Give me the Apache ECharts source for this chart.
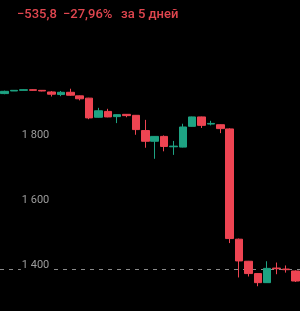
<!DOCTYPE html>
<html><head><meta charset="utf-8">
<script src="https://cdn.jsdelivr.net/npm/echarts@6/dist/echarts.min.js"></script>
<style>html,body{margin:0;padding:0;background:#000;overflow:hidden;width:300px;height:311px}#c{width:300px;height:331px}</style>
</head><body><div id="c"></div>
<script>
// Candles: [open, close, low, high]
const categories = Array.from({length: 32}, (_, i) => 'D' + (i + 1));
const candles = [
  [1929, 1936, 1927, 1938],
  [1937, 1939, 1937, 1940],
  [1939, 1941, 1939, 1942],
  [1941, 1939, 1938, 1942],
  [1939, 1937, 1936, 1940],
  [1934, 1927, 1920, 1937],
  [1926, 1933, 1921, 1937],
  [1933, 1924, 1922, 1944],
  [1922, 1913, 1908, 1923],
  [1915, 1854, 1850, 1916],
  [1856, 1876, 1855, 1885],
  [1874, 1857, 1856, 1882],
  [1858, 1864, 1838, 1865],
  [1865, 1861, 1856, 1866],
  [1862, 1818, 1802, 1863],
  [1815, 1782, 1762, 1848],
  [1782, 1797, 1728, 1798],
  [1797, 1766, 1751, 1800],
  [1765, 1767, 1740, 1783],
  [1764, 1826, 1763, 1836],
  [1828, 1857, 1827, 1858],
  [1857, 1831, 1823, 1858],
  [1835, 1837, 1831, 1845],
  [1833, 1821, 1807, 1834],
  [1820, 1482, 1468, 1822],
  [1480, 1413, 1362, 1482],
  [1412, 1374, 1365, 1413],
  [1374, 1346, 1335, 1375],
  [1346, 1390, 1345, 1412],
  [1391, 1389, 1372, 1408],
  [1388, 1386, 1377, 1399],
  [1382, 1351, 1348, 1384]
];
const shownTicks = [1400, 1600, 1800];
const refLine = 1387;
const header = ['−535,8', '−27,96%', 'за 5 дней'];

const chart = echarts.init(document.getElementById('c'), null, {renderer: 'canvas'});
const RED = '#EE4452', GREEN = '#1EA383', HDR = '#E0464F';
chart.setOption({
  backgroundColor: '#000',
  animation: false,
  graphic: [
    {type: 'text', left: 17, top: 8, style: {text: header[0], fill: HDR, font: '500 13px Roboto'}},
    {type: 'text', left: 63, top: 8, style: {text: header[1], fill: HDR, font: '500 13px Roboto'}},
    {type: 'text', left: 121, top: 8, style: {text: header[2], fill: HDR, font: '500 13px Roboto'}}
  ],
  grid: {left: -3.3, right: -4.7, top: 5.7, bottom: 0.3},
  xAxis: {
    type: 'category', data: categories, boundaryGap: true,
    axisLine: {show: false}, axisTick: {show: false}, axisLabel: {show: false}, splitLine: {show: false}
  },
  yAxis: {
    type: 'value', min: 1200, max: 2200, interval: 200, z: 5,
    axisLine: {show: false}, axisTick: {show: false}, splitLine: {show: false},
    axisLabel: {
      inside: true, align: 'right', margin: 50.3,
      color: '#9c9c9c', fontFamily: 'Roboto', fontSize: 11,
      backgroundColor: '#000', padding: [1, 1],
      formatter: v => shownTicks.includes(v) ? String(v).replace(/(\d)(\d{3})$/, '$1 $2') : ''
    }
  },
  series: [{
    type: 'candlestick',
    data: candles,
    barWidth: 8,
    itemStyle: {color: GREEN, color0: RED, borderColor: GREEN, borderColor0: RED, borderWidth: 1},
    markLine: {
      silent: true, symbol: 'none', z: 1,
      label: {show: false},
      lineStyle: {color: '#8a8a8a', type: [4, 5], width: 1},
      data: [{yAxis: refLine}]
    }
  }]
});
</script></body></html>
